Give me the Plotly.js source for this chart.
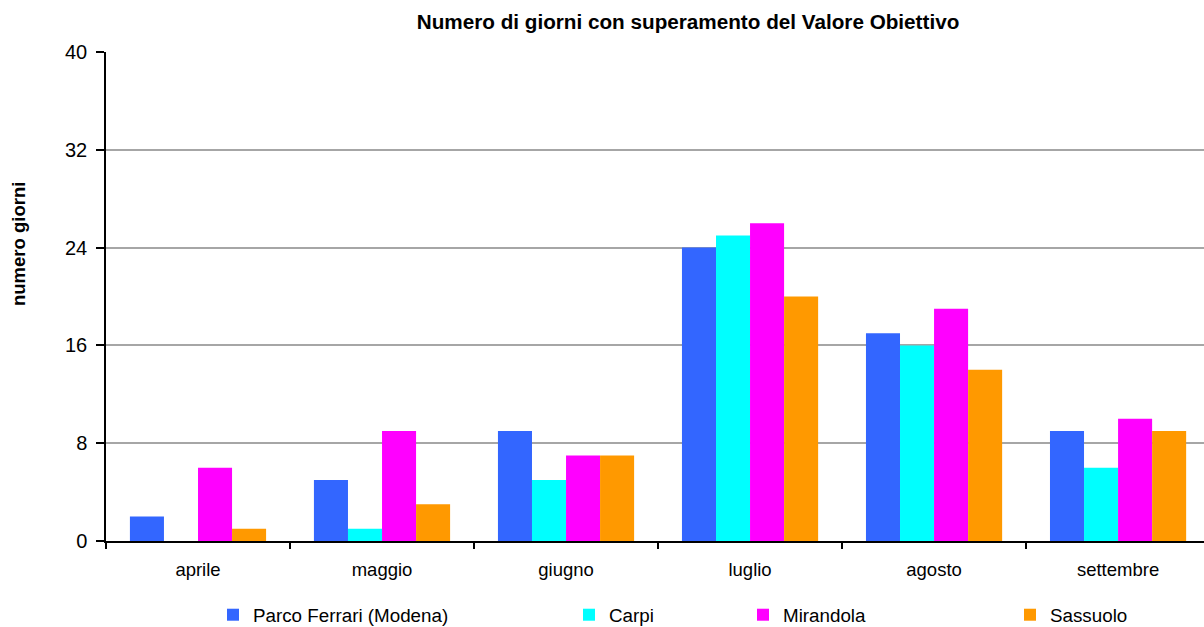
<!DOCTYPE html>
<html>
<head>
<meta charset="utf-8">
<script src="https://cdn.plot.ly/plotly-3.0.1.min.js"></script>
<style>html,body{margin:0;padding:0;background:#fff}#chart{width:1204px;height:627px}</style>
</head>
<body>
<div id="chart"></div>
<script>
var months = ["aprile", "maggio", "giugno", "luglio", "agosto", "settembre"];
var seriesNames = ["Parco Ferrari (Modena)", "Carpi", "Mirandola", "Sassuolo"];
var parcoFerrari = [2, 5, 9, 24, 17, 9];
var carpi = [0, 1, 5, 25, 16, 6];
var mirandola = [6, 9, 7, 26, 19, 10];
var sassuolo = [1, 3, 7, 20, 14, 9];
var yTicks = [0, 8, 16, 24, 32, 40];

var colors = ["#3366FF", "#00FFFF", "#FF00FF", "#FF9900"];
var values = [parcoFerrari, carpi, mirandola, sassuolo];
var legendIds = ["legend", "legend2", "legend3", "legend4"];
var legendX = [213, 569, 743, 1010];

var font = "Liberation Sans, Arial, sans-serif";
var traces = values.map(function (v, i) {
  return {
    type: "bar",
    name: seriesNames[i],
    x: months,
    y: v,
    marker: {color: colors[i], line: {width: 0}},
    legend: legendIds[i],
    hoverinfo: "x+y+name"
  };
});

var layout = {
  width: 1204,
  height: 627,
  margin: {l: 106, r: 0, t: 52, b: 86, pad: 0},
  paper_bgcolor: "#ffffff",
  plot_bgcolor: "#ffffff",
  font: {family: font, color: "#000000"},
  barmode: "group",
  bargap: 0.26,
  bargroupgap: 0,
  title: {
    text: "<b>Numero di giorni con superamento del Valore Obiettivo</b>",
    font: {family: font, size: 20.7, color: "#000000"},
    x: 688 / 1204, xref: "container", xanchor: "center",
    y: 1 - 22 / 627, yref: "container", yanchor: "middle"
  },
  xaxis: {
    type: "category",
    range: [-0.5, 5.467],
    showgrid: false,
    showline: true,
    linecolor: "#000000",
    linewidth: 1.5,
    ticks: "outside",
    tickson: "boundaries",
    ticklen: 6,
    tickcolor: "#000000",
    tickwidth: 1.5,
    ticklabelstandoff: 11,
    tickfont: {family: font, size: 18.5, color: "#000000"},
    zeroline: false,
    fixedrange: true
  },
  yaxis: {
    range: [0, 40],
    tickvals: yTicks,
    ticktext: yTicks.map(String),
    showgrid: true,
    gridcolor: "#a6a6a6",
    gridwidth: 1.5,
    showline: true,
    linecolor: "#000000",
    linewidth: 1.5,
    ticks: "outside",
    ticklen: 8,
    tickcolor: "#000000",
    tickwidth: 1.5,
    ticklabelstandoff: 5,
    tickfont: {family: font, size: 20, color: "#000000"},
    zeroline: false,
    fixedrange: true
  },
  annotations: [{
    text: "<b>numero giorni</b>",
    textangle: -90,
    xref: "paper", yref: "paper",
    x: (19 - 106) / 1098, y: (541 - 244) / 489,
    xanchor: "center", yanchor: "middle",
    showarrow: false,
    font: {family: font, size: 18.5, color: "#000000"}
  }],
  showlegend: true
};

legendIds.forEach(function (id, i) {
  layout[id] = {
    xref: "container", yref: "container",
    x: legendX[i] / 1204, xanchor: "left",
    y: 1 - 615 / 627, yanchor: "middle",
    orientation: "h",
    bgcolor: "rgba(0,0,0,0)",
    borderwidth: 0,
    font: {family: font, size: 18.8, color: "#000000"},
    itemwidth: 30,
    itemclick: false,
    itemdoubleclick: false
  };
});

Plotly.newPlot("chart", traces, layout, {displayModeBar: false});
</script>
</body>
</html>
